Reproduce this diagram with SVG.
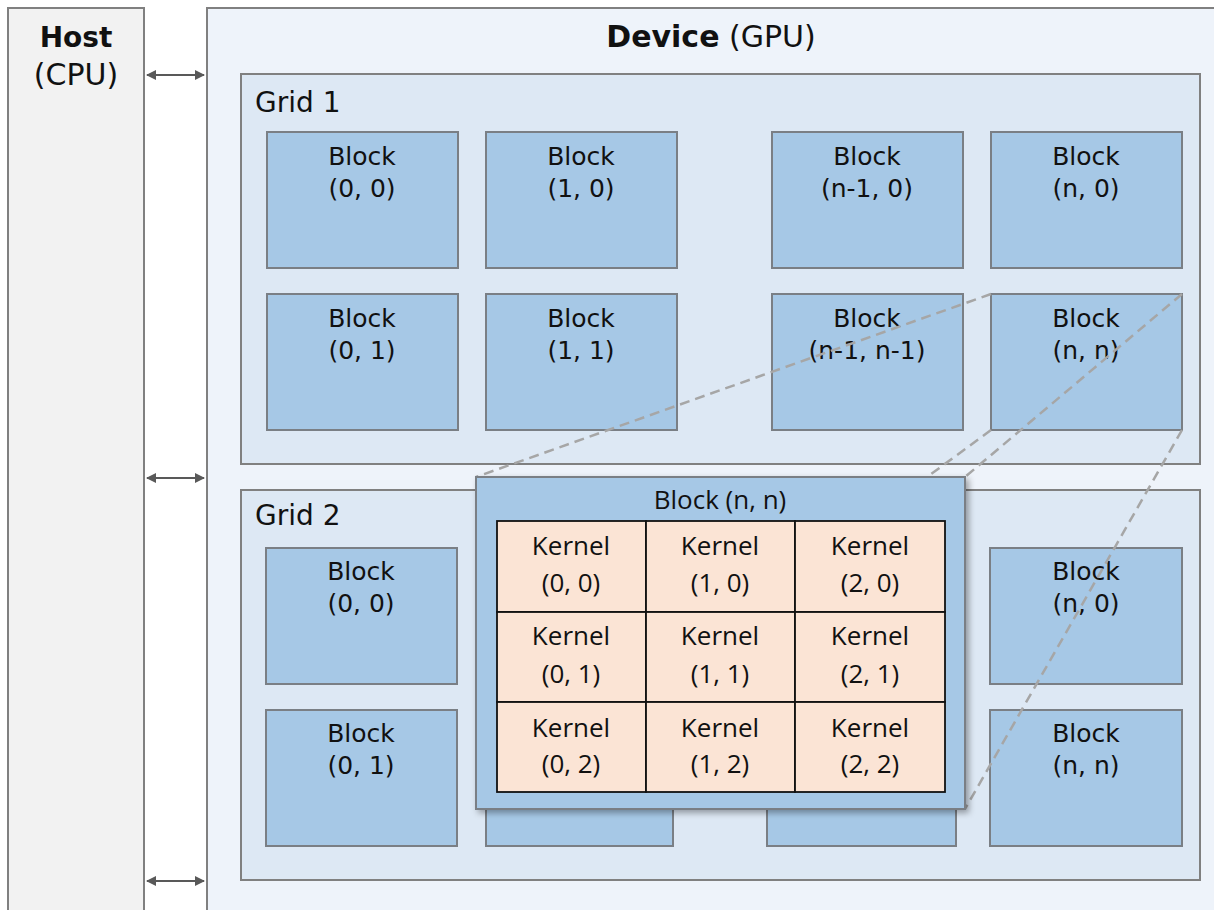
<svg xmlns="http://www.w3.org/2000/svg" width="1214" height="910" viewBox="0 0 1214 910">
<defs>
<style>
.host{fill:#f2f2f2;stroke:#808080;stroke-width:2}
.dev{fill:#eef3fa;stroke:#808080;stroke-width:2}
.grid{fill:#dde8f4;stroke:#808080;stroke-width:2}
.blk{fill:#a6c8e6;stroke:#7a7f85;stroke-width:2}
.ovl{fill:#a6c8e6;stroke:#7a7f85;stroke-width:2}
.ker{fill:#fbe4d5;stroke:#111;stroke-width:1.8}
.t{font-family:"DejaVu Sans",sans-serif;fill:#111;text-anchor:middle}
.tb{font-size:25px}
.tg{font-size:28px;text-anchor:start}
.k{font-family:"Open Sans","Noto Sans",sans-serif;font-size:26px;fill:#111;text-anchor:middle}
.dash{stroke:#a6a6a6;stroke-width:2.5;stroke-dasharray:10 6;fill:none}
.arr{stroke:#595959;stroke-width:2;fill:none;marker-start:url(#ah);marker-end:url(#ah)}
</style>
<marker id="ah" viewBox="0 0 10 10" refX="9" refY="5" markerWidth="5.5" markerHeight="5" orient="auto-start-reverse" markerUnits="strokeWidth">
<path d="M0,0 L10,5 L0,10 z" fill="#595959"/>
</marker>
<filter id="sh" x="-5%" y="-5%" width="115%" height="115%">
<feDropShadow dx="3" dy="3" stdDeviation="3" flood-color="#000" flood-opacity="0.35"/>
</filter>
</defs>
<rect width="1214" height="910" fill="#ffffff"/>

<g id="host">
<rect class="host" x="8" y="8" width="136" height="912"/>
<text class="t" x="76" y="47" font-size="28" font-weight="bold">Host</text>
<text class="t" x="76" y="85" font-size="30">(CPU)</text>
</g>

<g id="device">
<rect class="dev" x="207" y="8" width="1020" height="912"/>
<text class="t" x="711" y="47" font-size="30"><tspan font-weight="bold">Device</tspan> (GPU)</text>
</g>

<g id="grid1">
<rect class="grid" x="241" y="74" width="959" height="390"/>
<text class="t tg" x="255" y="112">Grid 1</text>
</g>

<g id="grid2">
<rect class="grid" x="241" y="490" width="959" height="390"/>
<text class="t tg" x="255" y="525">Grid 2</text>
</g>

<g id="g1-b00"><rect class="blk" x="267" y="132" width="191" height="136"/><text class="t tb" x="362" y="165">Block</text><text class="t tb" x="362" y="197">(0, 0)</text></g>
<g id="g1-b10"><rect class="blk" x="486" y="132" width="191" height="136"/><text class="t tb" x="581" y="165">Block</text><text class="t tb" x="581" y="197">(1, 0)</text></g>
<g id="g1-bn10"><rect class="blk" x="772" y="132" width="191" height="136"/><text class="t tb" x="867" y="165">Block</text><text class="t tb" x="867" y="197">(n-1, 0)</text></g>
<g id="g1-bn0"><rect class="blk" x="991" y="132" width="191" height="136"/><text class="t tb" x="1086" y="165">Block</text><text class="t tb" x="1086" y="197">(n, 0)</text></g>
<g id="g1-b01"><rect class="blk" x="267" y="294" width="191" height="136"/><text class="t tb" x="362" y="327">Block</text><text class="t tb" x="362" y="359">(0, 1)</text></g>
<g id="g1-b11"><rect class="blk" x="486" y="294" width="191" height="136"/><text class="t tb" x="581" y="327">Block</text><text class="t tb" x="581" y="359">(1, 1)</text></g>
<g id="g1-bn1n1"><rect class="blk" x="772" y="294" width="191" height="136"/><text class="t tb" x="867" y="327">Block</text><text class="t tb" x="867" y="359">(n-1, n-1)</text></g>
<g id="g1-bnn"><rect class="blk" x="991" y="294" width="191" height="136"/><text class="t tb" x="1086" y="327">Block</text><text class="t tb" x="1086" y="359">(n, n)</text></g>

<g id="g2-b00"><rect class="blk" x="266" y="548" width="191" height="136"/><text class="t tb" x="361" y="580">Block</text><text class="t tb" x="361" y="612">(0, 0)</text></g>
<g id="g2-bn0"><rect class="blk" x="990" y="548" width="192" height="136"/><text class="t tb" x="1086" y="580">Block</text><text class="t tb" x="1086" y="612">(n, 0)</text></g>
<g id="g2-b01"><rect class="blk" x="266" y="710" width="191" height="136"/><text class="t tb" x="361" y="742">Block</text><text class="t tb" x="361" y="774">(0, 1)</text></g>
<g id="g2-b11"><rect class="blk" x="486" y="710" width="187" height="136"/></g>
<g id="g2-bn1n1"><rect class="blk" x="767" y="710" width="189" height="136"/></g>
<g id="g2-bnn"><rect class="blk" x="990" y="710" width="192" height="136"/><text class="t tb" x="1086" y="742">Block</text><text class="t tb" x="1086" y="774">(n, n)</text></g>

<g id="connectors">
<line class="arr" x1="147" y1="75" x2="204" y2="75"/>
<line class="arr" x1="147" y1="478" x2="204" y2="478"/>
<line class="arr" x1="147" y1="881" x2="204" y2="881"/>
<line class="dash" x1="991" y1="294" x2="476" y2="477"/>
<line class="dash" x1="1182" y1="294" x2="965" y2="477"/>
<line class="dash" x1="991" y1="430" x2="476" y2="809"/>
<line class="dash" x1="1182" y1="430" x2="965" y2="809"/>
</g>

<g id="block-nn-detail">
<rect class="ovl" x="476" y="477" width="489" height="332" filter="url(#sh)"/>
<text class="k" x="720" y="509">Block (n, n)</text>
</g>

<g id="k00"><rect class="ker" x="497" y="521" width="149" height="91"/><text class="k" x="571" y="555">Kernel</text><text class="k" x="571" y="592">(0, 0)</text></g>
<g id="k10"><rect class="ker" x="646" y="521" width="149" height="91"/><text class="k" x="720" y="555">Kernel</text><text class="k" x="720" y="592">(1, 0)</text></g>
<g id="k20"><rect class="ker" x="795" y="521" width="150" height="91"/><text class="k" x="870" y="555">Kernel</text><text class="k" x="870" y="592">(2, 0)</text></g>
<g id="k01"><rect class="ker" x="497" y="612" width="149" height="90"/><text class="k" x="571" y="645">Kernel</text><text class="k" x="571" y="683">(0, 1)</text></g>
<g id="k11"><rect class="ker" x="646" y="612" width="149" height="90"/><text class="k" x="720" y="645">Kernel</text><text class="k" x="720" y="683">(1, 1)</text></g>
<g id="k21"><rect class="ker" x="795" y="612" width="150" height="90"/><text class="k" x="870" y="645">Kernel</text><text class="k" x="870" y="683">(2, 1)</text></g>
<g id="k02"><rect class="ker" x="497" y="702" width="149" height="90"/><text class="k" x="571" y="737">Kernel</text><text class="k" x="571" y="773">(0, 2)</text></g>
<g id="k12"><rect class="ker" x="646" y="702" width="149" height="90"/><text class="k" x="720" y="737">Kernel</text><text class="k" x="720" y="773">(1, 2)</text></g>
<g id="k22"><rect class="ker" x="795" y="702" width="150" height="90"/><text class="k" x="870" y="737">Kernel</text><text class="k" x="870" y="773">(2, 2)</text></g>
</svg>
